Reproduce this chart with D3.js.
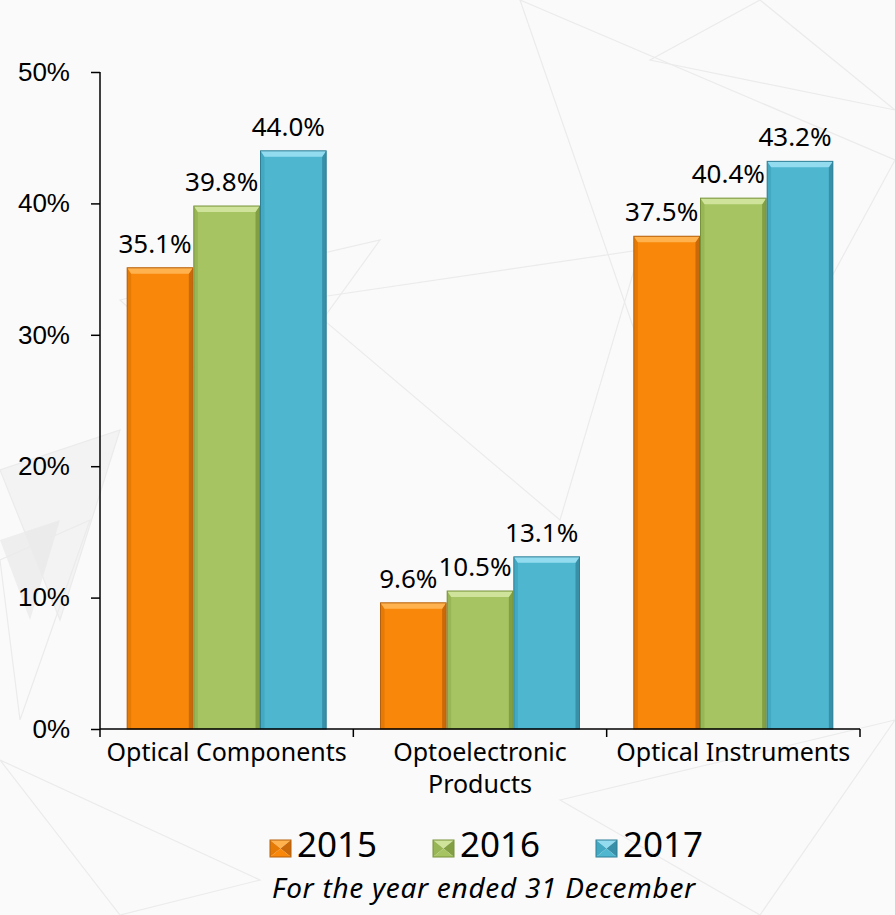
<!DOCTYPE html>
<html lang="en">
<head>
  <meta charset="UTF-8">
  <title>Gross profit margin by segment</title>
  <script src="https://cdn.jsdelivr.net/npm/d3@7"></script>
  <style>
    html, body { margin: 0; padding: 0; background: #fafafa; }
    svg { display: block; font-family: "Noto Sans", "Open Sans", sans-serif; }
    .axis path, .axis line { stroke: #000; stroke-width: 1.5px; }
    .axis text { fill: #000; }
  </style>
</head>
<body>
<div id="chart"></div>
<script>
  var categories = ["Optical Components", "Optoelectronic Products", "Optical Instruments"];
  var years = ["2015", "2016", "2017"];
  var values2015 = [0.351, 0.096, 0.375];
  var values2016 = [0.398, 0.105, 0.404];
  var values2017 = [0.440, 0.131, 0.432];
  var yTicks = [0, 0.1, 0.2, 0.3, 0.4, 0.5];
  var subtitle = "For the year ended 31 December";

  var series = [values2015, values2016, values2017];
  var colors = {
    "2015": {body: "#f8870a", top: "#ffb24e", left: "#e57a05", right: "#c9690a", edge: "#b5600c"},
    "2016": {body: "#a6c462", top: "#cfe39a", left: "#98b655", right: "#82a043", edge: "#76923a"},
    "2017": {body: "#4fb6d0", top: "#93dcf0", left: "#43a8c2", right: "#3790a8", edge: "#2f7f95"}
  };

  var width = 895, height = 915;
  var svg = d3.select("#chart").append("svg")
      .attr("width", width)
      .attr("height", height);

  // faint geometric backdrop
  svg.append("rect").attr("width", width).attr("height", height).attr("fill", "#fafafa");
  svg.append("path")
      .attr("d", "M0,470L120,430L60,620Z")
      .attr("fill", "#efefef").attr("opacity", 0.7);
  svg.append("path")
      .attr("d", "M0,540L60,520L30,620Z")
      .attr("fill", "#e6e6e6").attr("opacity", 0.6);
  var bg = svg.append("g").attr("fill", "none").attr("stroke", "#ebebeb").attr("stroke-width", 1.2);
  [
    [[0, 470], [120, 430], [60, 620]],
    [[0, 560], [90, 520], [20, 720]],
    [[380, 240], [250, 420], [120, 300]],
    [[300, 300], [640, 250], [560, 520]],
    [[520, 0], [700, 520], [895, 160]],
    [[760, 0], [895, 110], [650, 60]],
    [[0, 760], [260, 880], [120, 915]],
    [[560, 800], [895, 720], [760, 915]]
  ].forEach(function(p) {
    bg.append("path").attr("d", d3.line()(p) + "Z");
  });

  var x0 = d3.scaleBand()
      .domain(categories)
      .range([100, 860]);

  var x1 = d3.scaleBand()
      .domain(years)
      .range([0, x0.bandwidth()])
      .paddingOuter(0.4);

  var y = d3.scaleLinear()
      .domain([0, 0.5])
      .range([729, 72]);

  // bars
  var rows = [];
  categories.forEach(function(c, ci) {
    years.forEach(function(yr, yi) {
      rows.push({cat: c, year: yr, value: series[yi][ci]});
    });
  });

  var bars = svg.append("g").selectAll("g.bar")
      .data(rows)
      .join("g")
      .attr("class", "bar");

  bars.each(function(d) {
    var g = d3.select(this);
    var c = colors[d.year];
    var x = x0(d.cat) + x1(d.year) + 0.5;
    var w = x1.bandwidth() - 1;
    var top = y(d.value), h = y(0) - top;
    var b = 6, s = 4;
    g.append("rect")
        .attr("x", x).attr("y", top).attr("width", w).attr("height", h)
        .attr("fill", c.body);
    g.append("path")
        .attr("d", d3.line()([[x, top + h], [x, top], [x + s, top + b], [x + s, top + h]]) + "Z")
        .attr("fill", c.left);
    g.append("path")
        .attr("d", d3.line()([[x + w, top + h], [x + w, top], [x + w - s, top + b], [x + w - s, top + h]]) + "Z")
        .attr("fill", c.right);
    g.append("path")
        .attr("d", d3.line()([[x, top], [x + w, top], [x + w - s, top + b], [x + s, top + b]]) + "Z")
        .attr("fill", c.top);
    g.append("rect")
        .attr("x", x).attr("y", top).attr("width", w).attr("height", h)
        .attr("fill", "none").attr("stroke", c.edge).attr("stroke-width", 1);
  });

  // value labels
  svg.append("g").selectAll("text")
      .data(rows)
      .join("text")
      .attr("x", function(d) { return x0(d.cat) + x1(d.year) + x1.bandwidth() / 2 - 5; })
      .attr("y", function(d) { return y(d.value) - 15; })
      .attr("text-anchor", "middle")
      .attr("font-size", 26)
      .text(function(d) { return d3.format(".1%")(d.value); });

  // axes
  var yAxis = svg.append("g")
      .attr("class", "axis")
      .attr("transform", "translate(100,0)")
      .call(d3.axisLeft(y).tickValues(yTicks).tickFormat(d3.format(".0%")).tickSize(9).tickPadding(21));
  yAxis.selectAll("text").attr("font-size", 26);
  yAxis.select(".domain").attr("d", "M0," + y(0.5) + "V" + y(0));

  var xAxis = svg.append("g")
      .attr("class", "axis")
      .attr("transform", "translate(0," + y(0) + ")");
  xAxis.append("line")
      .attr("x1", 100).attr("x2", 860).attr("y1", 0).attr("y2", 0);
  var tickXs = categories.map(function(c) { return x0(c); }).concat([x0.range()[1]]);
  xAxis.selectAll("line.tick")
      .data(tickXs)
      .join("line")
      .attr("class", "tick")
      .attr("x1", function(d) { return d; }).attr("x2", function(d) { return d; })
      .attr("y1", 0).attr("y2", 8);

  var catLabels = {
    "Optical Components": ["Optical Components"],
    "Optoelectronic Products": ["Optoelectronic", "Products"],
    "Optical Instruments": ["Optical Instruments"]
  };
  xAxis.selectAll("text.cat")
      .data(categories)
      .join("text")
      .attr("class", "cat")
      .attr("text-anchor", "middle")
      .attr("font-size", 25)
      .attr("x", function(d) { return x0(d) + x0.bandwidth() / 2; })
      .attr("y", 32)
      .each(function(d) {
        var t = d3.select(this);
        catLabels[d].forEach(function(line, i) {
          t.append("tspan")
              .attr("x", x0(d) + x0.bandwidth() / 2)
              .attr("dy", i === 0 ? 0 : 32)
              .text(line);
        });
      });

  // legend
  var lx = d3.scalePoint().domain(years).range([270, 596]);
  var legend = svg.append("g").selectAll("g.item")
      .data(years)
      .join("g")
      .attr("class", "item")
      .attr("transform", function(d) { return "translate(" + lx(d) + ",840)"; });

  legend.each(function(d) {
    var g = d3.select(this);
    var c = colors[d];
    var w = 21, h = 17, cx = w / 2, cy = h / 2;
    g.append("path").attr("d", d3.line()([[0, 0], [w, 0], [cx, cy]]) + "Z").attr("fill", c.top);
    g.append("path").attr("d", d3.line()([[0, 0], [0, h], [cx, cy]]) + "Z").attr("fill", c.left);
    g.append("path").attr("d", d3.line()([[w, 0], [w, h], [cx, cy]]) + "Z").attr("fill", c.right);
    g.append("path").attr("d", d3.line()([[0, h], [w, h], [cx, cy]]) + "Z").attr("fill", c.body);
    g.append("rect").attr("width", w).attr("height", h).attr("fill", "none")
        .attr("stroke", c.edge).attr("stroke-width", 1);
    g.append("text")
        .attr("x", 27)
        .attr("y", 17)
        .attr("font-size", 35)
        .text(d);
  });

  svg.append("text")
      .attr("x", 484)
      .attr("y", 898)
      .attr("text-anchor", "middle")
      .attr("font-size", 28)
      .attr("letter-spacing", 0.7)
      .attr("font-style", "italic")
      .text(subtitle);
</script>
</body>
</html>
